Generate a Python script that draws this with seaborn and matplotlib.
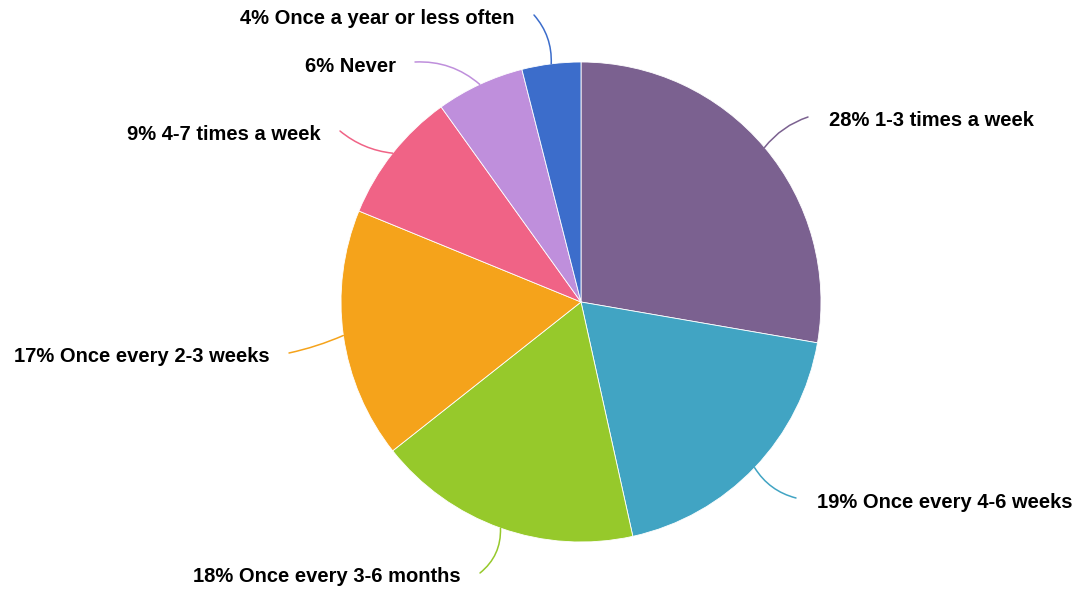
import numpy as np
import matplotlib
matplotlib.use("Agg")
import matplotlib.pyplot as plt
import seaborn as sns

sns.set_theme(style="white")
plt.rcParams['font.family'] = ['Liberation Sans', 'DejaVu Sans']

# data (clockwise from 12 o'clock)
categories = ['1-3 times a week', 'Once every 4-6 weeks', 'Once every 3-6 months',
              'Once every 2-3 weeks', '4-7 times a week', 'Never', 'Once a year or less often']
shares = [28, 19, 18, 17, 9, 6, 4]
colors = ['#7b6190', '#41a4c3', '#96c92b', '#f5a31b', '#f06386', '#bf8fdc', '#3c6dcb']

# label anchor (pixel x, pixel y, alignment) and leader-line bend
label_pos = [(829, 121, 'left'), (817, 502, 'left'), (461, 577, 'right'),
             (270, 357, 'right'), (321, 135, 'right'), (396, 66, 'right'),
             (515, 19, 'right')]
curve = [0.15, -0.2, 0.25, 0.05, 0.15, -0.2, -0.2]

W, H = 1081, 593
cx, cy, r = 581, H - 302, 240

fig = plt.figure(figsize=(W / 100, H / 100), dpi=100)
ax = fig.add_axes([0, 0, 1, 1])

wedges, _ = ax.pie(shares, colors=colors, startangle=90, counterclock=False,
                   center=(cx, cy), radius=r,
                   wedgeprops=dict(edgecolor='white', linewidth=0.6))
# pie() resets the limits, so set them afterwards
ax.set_xlim(0, W)
ax.set_ylim(0, H)
ax.set_aspect('equal')
ax.axis('off')

for w, cat, s, (lx, ly, ha), rad, col in zip(wedges, categories, shares, label_pos, curve, colors):
    mid = np.deg2rad((w.theta1 + w.theta2) / 2)
    ex, ey = cx + r * np.cos(mid), cy + r * np.sin(mid)
    ly = H - ly
    endx = lx - 21 if ha == 'left' else lx + 19
    ax.annotate('', xy=(ex, ey), xytext=(endx, ly + 4),
                arrowprops=dict(arrowstyle='-', color=col, lw=1.1,
                                shrinkA=0, shrinkB=0,
                                connectionstyle=f'arc3,rad={rad}'))
    ax.text(lx, ly, f'{s}% {cat}', ha=ha, va='center', fontsize=14.5,
            fontweight='bold', color='#000000')

fig.savefig('out.png', dpi=100)
